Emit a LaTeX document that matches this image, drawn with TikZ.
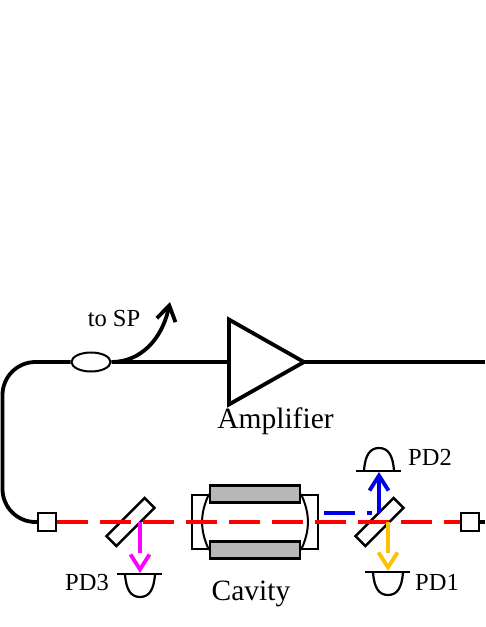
\documentclass[tikz,border=0pt]{standalone}
\usepackage{fontspec}
\setmainfont{Liberation Serif}
\usepackage{xcolor}
\definecolor{cBeam}{HTML}{FF0000}
\definecolor{cRefl}{HTML}{0000E6}
\definecolor{cTrans}{HTML}{FFC000}
\definecolor{cPick}{HTML}{FF00FF}
\definecolor{cBlock}{HTML}{B7B7B7}
\usetikzlibrary{positioning,arrows.meta,shapes.geometric}
\tikzset{
  node-port/.style={draw,line width=2.2pt,fill=white,minimum size=18pt,inner sep=0pt},
  node-plate/.style={draw,line width=2.5pt,fill=white,rotate=45,minimum width=54pt,
    minimum height=14pt,inner sep=0pt},
  node-coupler/.style={draw,line width=2pt,fill=white,ellipse,minimum width=39pt,
    minimum height=19pt,inner sep=0pt},
  node-amp/.style={draw,line width=3.8pt,fill=white,isosceles triangle,
    isosceles triangle apex angle=59,minimum height=75pt,inner sep=0pt,outer sep=0pt},
  node-spacer/.style={draw,line width=2.5pt,fill=white,minimum width=126pt,
    minimum height=54pt,inner sep=0pt},
  node-block/.style={draw,line width=2.5pt,fill=cBlock,minimum width=90pt,
    minimum height=17pt,inner sep=0pt},
  label-big/.style={font=\fontsize{29.5}{31}\selectfont,inner sep=0pt},
  label-small/.style={font=\fontsize{24.5}{26}\selectfont,inner sep=0pt},
  fiber/.style={line width=3.8pt,draw=black},
  mirror-arc/.style={line width=2pt,draw=black},
  beam-red/.style={line width=4pt,draw=cBeam,dash pattern=on 31pt off 12pt},
  barb/.style={-{Straight Barb[length=15pt,width=19pt,line width=3.8pt]}},
  arrow-up/.style={barb,line width=3.8pt,draw=cRefl},
  arrow-down/.style={barb,line width=3.8pt,dash pattern=on 31pt off 40pt},
  pd/.pic={
    \draw[line width=2.2pt] (-23,0) -- (22,0);
    \draw[line width=2.2pt] (-15,0) .. controls (-14,16) and (-9,23) .. (0,23)
      .. controls (9,23) and (14,16) .. (15,0);
  },
}
\begin{document}
\begin{tikzpicture}[x=1pt,y=-1pt]
  \useasboundingbox[fill=white] (0,0) rectangle (485,627);
  % fibre loop
  \node[node-amp,anchor=apex] (amp) at (304,362) {};
  \node[node-coupler] (cpl) at (91,362) {};
  \node[node-port] (portL) at (47,522) {};
  \node[node-port] (portR) at (470,522) {};
  \coordinate (exit) at (485,362);
  \coordinate (exitR) at (485,522);
  \coordinate (sp) at (170,302);
  \draw[fiber] (exit) -- (amp.apex);
  \draw[fiber] (amp.west) -- (cpl.east);
  \draw[fiber,rounded corners=33pt] (cpl.west) -- (2.5,362) -- (2.5,522) -- (portL.west);
  \draw[fiber] (portR.east) -- (exitR);
  \draw[fiber,barb] (cpl.east) .. controls (140,362) and (162,340) .. (sp);
  % cavity
  \node[node-spacer] (spacer) at (255,522) {};
  \draw[mirror-arc] (209,494) to[bend right=25] (209,550);
  \draw[mirror-arc] (301,494) to[bend left=25] (301,550);
  \node[node-block] (blockT) at (255,494) {};
  \node[node-block] (blockB) at (255,550) {};
  % plates
  \node[node-plate] (bsL) at (130.5,522) {};
  \node[node-plate] (bsR) at (379.5,522) {};
  % beams
  \draw[beam-red] (portL.east) -- (portR.west);
  \coordinate (blueS) at (324,513);
  \coordinate (blueE) at (372,513);
  \coordinate (blueU) at (379,513);
  \draw[line width=3.5pt,draw=cRefl,dash pattern=on 31pt off 12pt] (blueS) -- (blueE);
  % detectors
  \pic at (140,574) {pd};
  \pic at (388,572) {pd};
  \pic[yscale=-1] at (379,471) {pd};
  \coordinate (pd3) at (140,573);
  \coordinate (pd1) at (388,571);
  \coordinate (pd2) at (379,472);
  \coordinate (magS) at (140,522);
  \coordinate (yelS) at (388,522);
  \draw[arrow-up] (blueU) -- (pd2);
  \draw[arrow-down,draw=cPick] (magS) -- (pd3);
  \draw[arrow-down,draw=cTrans] (yelS) -- (pd1);
  % labels
  \node[label-small] (toSP) at (114,319) {to SP};
  \node[label-big] (ampL) at (275.5,421) {Amplifier};
  \node[label-big] (cavL) at (251,594) {Cavity};
  \node[label-small] (pd1L) at (437,582) {PD1};
  \node[label-small] (pd2L) at (430,457) {PD2};
  \node[label-small] (pd3L) at (87,583) {PD3};
\end{tikzpicture}
\end{document}
